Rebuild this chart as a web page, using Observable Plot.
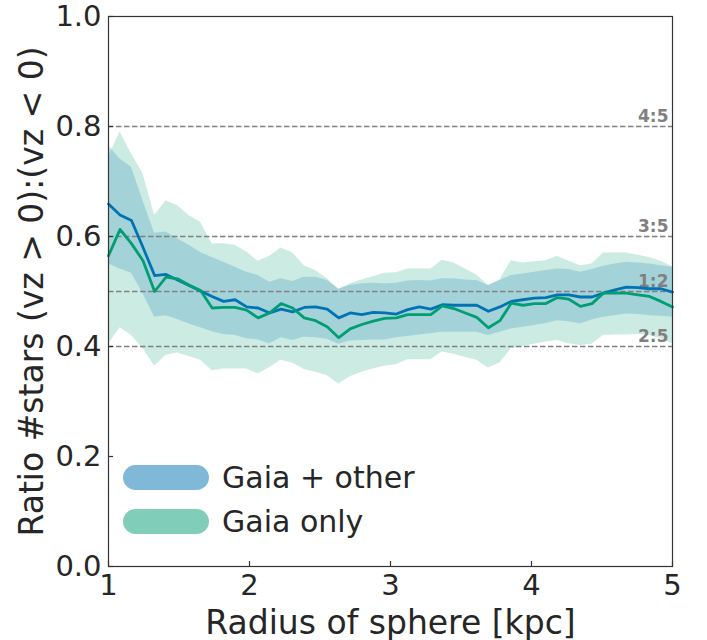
<!DOCTYPE html>
<html>
<head>
<meta charset="utf-8">
<script src="https://cdn.jsdelivr.net/npm/d3@7"></script>
<script src="https://cdn.jsdelivr.net/npm/@observablehq/plot@0.6"></script>
<style>
  body { margin: 0; background: #fff; font-family: "DejaVu Sans", sans-serif; }
  #chart { position: relative; width: 707px; height: 640px; }
  #chart g[aria-label="x-axis label"] text,
  #chart g[aria-label="y-axis label"] text { font-size: 33px; }
  .legend { position: absolute; left: 110px; top: 455px; color: #262626; font-size: 30px; }
  .legend .row { display: flex; align-items: center; height: 44px; }
  .legend .swatch { width: 86px; height: 25px; border-radius: 13px; margin: 0 13px 0 13px; }
</style>
</head>
<body>
<div id="chart"></div>
<script>
// Sphere radius (kpc) of each sample
const radius = [1.000, 1.082, 1.163, 1.245, 1.327, 1.408, 1.490, 1.571, 1.653, 1.735,
  1.816, 1.898, 1.980, 2.061, 2.143, 2.224, 2.306, 2.388, 2.469, 2.551,
  2.633, 2.714, 2.796, 2.878, 2.959, 3.041, 3.122, 3.204, 3.286, 3.367,
  3.449, 3.531, 3.612, 3.694, 3.776, 3.857, 3.939, 4.020, 4.102, 4.184,
  4.265, 4.347, 4.429, 4.510, 4.592, 4.673, 4.755, 4.837, 4.918, 5.000];

// Gaia + other: median ratio and band
const otherMid = [0.659, 0.639, 0.629, 0.580, 0.529, 0.531, 0.521, 0.511, 0.501, 0.491,
  0.482, 0.485, 0.472, 0.470, 0.461, 0.468, 0.463, 0.471, 0.472, 0.468,
  0.452, 0.461, 0.458, 0.462, 0.461, 0.459, 0.467, 0.472, 0.468, 0.476,
  0.475, 0.475, 0.475, 0.464, 0.472, 0.482, 0.485, 0.488, 0.489, 0.494,
  0.494, 0.490, 0.490, 0.497, 0.503, 0.508, 0.507, 0.505, 0.505, 0.499];
const otherLo = [0.550, 0.541, 0.533, 0.496, 0.453, 0.456, 0.449, 0.441, 0.434, 0.427,
  0.422, 0.420, 0.414, 0.412, 0.405, 0.416, 0.411, 0.417, 0.416, 0.413,
  0.404, 0.410, 0.411, 0.412, 0.412, 0.416, 0.418, 0.421, 0.423, 0.426,
  0.426, 0.426, 0.426, 0.420, 0.426, 0.432, 0.435, 0.438, 0.442, 0.447,
  0.445, 0.441, 0.448, 0.453, 0.456, 0.459, 0.458, 0.456, 0.455, 0.453];
const otherHi = [0.765, 0.741, 0.726, 0.665, 0.606, 0.608, 0.596, 0.584, 0.571, 0.562,
  0.553, 0.544, 0.535, 0.529, 0.517, 0.523, 0.518, 0.526, 0.526, 0.520,
  0.505, 0.511, 0.514, 0.515, 0.514, 0.515, 0.519, 0.520, 0.519, 0.523,
  0.523, 0.521, 0.520, 0.511, 0.520, 0.529, 0.532, 0.535, 0.538, 0.541,
  0.540, 0.535, 0.540, 0.546, 0.550, 0.553, 0.552, 0.550, 0.547, 0.544];

// Gaia only: median ratio and band
const gaiaMid = [0.565, 0.613, 0.587, 0.556, 0.500, 0.526, 0.523, 0.512, 0.502, 0.470,
  0.471, 0.471, 0.466, 0.452, 0.461, 0.478, 0.470, 0.452, 0.447, 0.436,
  0.416, 0.432, 0.440, 0.446, 0.451, 0.452, 0.458, 0.458, 0.458, 0.474,
  0.469, 0.461, 0.453, 0.434, 0.447, 0.479, 0.475, 0.478, 0.478, 0.489,
  0.486, 0.473, 0.478, 0.497, 0.497, 0.497, 0.494, 0.491, 0.482, 0.472];
const gaiaLo = [0.404, 0.434, 0.420, 0.396, 0.364, 0.384, 0.388, 0.382, 0.375, 0.356,
  0.359, 0.359, 0.359, 0.350, 0.362, 0.375, 0.370, 0.358, 0.353, 0.347,
  0.332, 0.345, 0.353, 0.359, 0.364, 0.367, 0.376, 0.376, 0.376, 0.390,
  0.386, 0.380, 0.375, 0.361, 0.370, 0.396, 0.400, 0.404, 0.408, 0.411,
  0.405, 0.402, 0.404, 0.420, 0.421, 0.421, 0.422, 0.420, 0.414, 0.405];
const gaiaHi = [0.745, 0.790, 0.750, 0.714, 0.638, 0.665, 0.656, 0.638, 0.626, 0.587,
  0.587, 0.584, 0.572, 0.555, 0.564, 0.579, 0.570, 0.547, 0.538, 0.523,
  0.503, 0.514, 0.521, 0.527, 0.533, 0.534, 0.541, 0.541, 0.541, 0.557,
  0.552, 0.541, 0.530, 0.511, 0.521, 0.556, 0.552, 0.554, 0.556, 0.564,
  0.555, 0.547, 0.550, 0.570, 0.570, 0.570, 0.566, 0.562, 0.555, 0.545];

// Reference ratios
const refValues = [0.8, 0.6, 0.5, 0.4];
const refLabels = ["4:5", "3:5", "1:2", "2:5"];

// Tick values
const xTicks = [1, 2, 3, 4, 5];
const yTicks = [0.0, 0.2, 0.4, 0.6, 0.8, 1.0];

const seriesNames = ["Gaia + other", "Gaia only"];
const lineColors = ["#0173b2", "#029e73"];

const rows = radius.map((r, i) => ({
  r, otherMid: otherMid[i], otherLo: otherLo[i], otherHi: otherHi[i],
  gaiaMid: gaiaMid[i], gaiaLo: gaiaLo[i], gaiaHi: gaiaHi[i]
}));
const refs = refValues.map((v, i) => ({v, label: refLabels[i]}));

const chart = Plot.plot({
  width: 707,
  height: 640,
  marginLeft: 108,
  marginRight: 35,
  marginTop: 16,
  marginBottom: 74,
  style: {fontFamily: "DejaVu Sans, sans-serif", color: "#262626", background: "white", overflow: "visible"},
  x: {domain: [1, 5]},
  y: {domain: [0, 1]},
  marks: [
    Plot.areaY(rows, {x: "r", y1: "gaiaLo", y2: "gaiaHi", fill: lineColors[1], fillOpacity: 0.2}),
    Plot.areaY(rows, {x: "r", y1: "otherLo", y2: "otherHi", fill: lineColors[0], fillOpacity: 0.2}),
    Plot.ruleY(refs, {y: "v", stroke: "#808080", strokeWidth: 1.5, strokeDasharray: "5.5,2.5"}),
    Plot.text(refs, {y: "v", text: "label", frameAnchor: "right", textAnchor: "end", dx: -4, dy: -10,
      fill: "#808080", fontWeight: "bold", fontSize: 17}),
    Plot.line(rows, {x: "r", y: "otherMid", stroke: lineColors[0], strokeWidth: 2.8}),
    Plot.line(rows, {x: "r", y: "gaiaMid", stroke: lineColors[1], strokeWidth: 2.8}),
    Plot.tickX(xTicks, {x: d => d, insetTop: 545, stroke: "#333", strokeWidth: 1.2}),
    Plot.tickY(yTicks, {y: d => d, insetRight: 559, stroke: "#333", strokeWidth: 1.2}),
    Plot.frame({stroke: "#333", strokeWidth: 1.2}),
    Plot.axisX(xTicks, {tickSize: 0, tickPadding: 8, fontSize: 29, tickFormat: d => String(d),
      label: "Radius of sphere [kpc]", labelAnchor: "center", labelArrow: "none", labelOffset: 67}),
    Plot.axisY(yTicks, {tickSize: 0, tickPadding: 7, fontSize: 29, tickFormat: d => d.toFixed(1),
      label: "Ratio #stars (vz > 0):(vz < 0)", labelAnchor: "center", labelArrow: "none", labelOffset: 89})
  ]
});

const holder = document.getElementById("chart");
holder.appendChild(chart);

// Legend drawn inside the plot area, lower left
const legend = document.createElement("div");
legend.className = "legend";
seriesNames.forEach((name, i) => {
  const row = document.createElement("div");
  row.className = "row";
  const sw = document.createElement("div");
  sw.className = "swatch";
  sw.style.background = lineColors[i];
  sw.style.opacity = 0.5;
  const label = document.createElement("span");
  label.textContent = name;
  row.appendChild(sw);
  row.appendChild(label);
  legend.appendChild(row);
});
holder.appendChild(legend);
</script>
</body>
</html>
